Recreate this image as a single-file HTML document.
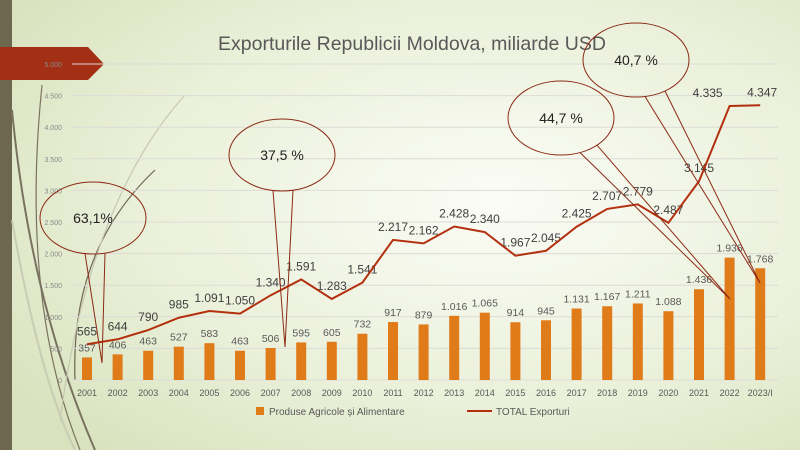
<!DOCTYPE html>
<html><head><meta charset="utf-8"><style>
html,body{margin:0;padding:0;width:800px;height:450px;overflow:hidden}
svg{display:block}
text{font-family:"Liberation Sans",sans-serif}
</style></head><body>
<svg id="s" width="800" height="450" xmlns="http://www.w3.org/2000/svg">
<defs>
<radialGradient id="bg" cx="0.62" cy="0.45" r="0.75">
<stop offset="0" stop-color="#fbfcf6"/><stop offset="0.6" stop-color="#eaf0d9"/><stop offset="1" stop-color="#d8e2bd"/>
</radialGradient>
</defs>
<rect width="800" height="450" fill="url(#bg)"/>
<rect x="0" y="0" width="12" height="450" fill="#6e6750"/>
<g fill="none" stroke="#7a7260" stroke-width="2">
<path d="M12,110 Q30,300 95,450" />
<path d="M42,85 Q20,300 80,450" stroke-width="1.2"/>
<path d="M75,380 Q70,250 155,170" stroke="#6e6650" stroke-width="1.2"/>
<path d="M60,420 Q90,200 185,95" stroke="#c8c8b0" stroke-width="1.2"/>
<path d="M12,220 Q40,380 75,450" stroke="#c9cbb4" stroke-width="2"/>
</g>
<polygon points="0,47 88,47 104,64 88,80 0,80" fill="#a33015"/>
<text x="412" y="50" text-anchor="middle" font-size="19.5" fill="#595959">Exporturile Republicii Moldova, miliarde USD</text>
<g id="g"></g>
</svg>
<script>
var g=document.getElementById('g'),h='';
function Y(v){return 380-v*0.0632}
function X(i){return 87+30.6*i}
for(var k=0;k<=10;k++){var y=Y(k*500);h+='<line x1="72" x2="778" y1="'+y+'" y2="'+y+'" stroke="#dcdcd6" stroke-width="1"/>';
var v=k*500,lab=v==0?'0':(v>=1000?Math.floor(v/1000)+'.'+String(v%1000).padStart(3,'0'):'500');
h+='<text x="62" y="'+(y+3)+'" text-anchor="end" font-size="7" fill="#8a8a8a">'+lab+'</text>';}
var yrs=['2001','2002','2003','2004','2005','2006','2007','2008','2009','2010','2011','2012','2013','2014','2015','2016','2017','2018','2019','2020','2021','2022','2023/I'];
var bar=[357,406,463,527,583,463,506,595,605,732,917,879,1016,1065,914,945,1131,1167,1211,1088,1436,1936,1768];
var tot=[565,644,790,985,1091,1050,1340,1591,1283,1541,2217,2162,2428,2340,1967,2045,2425,2707,2779,2487,3145,4335,4347];
function f(v){return v>=1000?Math.floor(v/1000)+'.'+String(v%1000).padStart(3,'0'):String(v)}
var pts=[];
for(var i=0;i<23;i++){var x=X(i);
h+='<rect x="'+(x-5)+'" y="'+Y(bar[i])+'" width="10" height="'+(380-Y(bar[i]))+'" fill="#e07b1a"/>';
h+='<text x="'+x+'" y="'+(Y(bar[i])-6)+'" text-anchor="middle" font-size="10.5" fill="#595959">'+f(bar[i])+'</text>';
h+='<text x="'+x+'" y="396" text-anchor="middle" font-size="9" fill="#595959">'+yrs[i]+'</text>';
pts.push(x+','+Y(tot[i]));
var lx=x+(i==21?-22:0)+(i==22?2:0);
h+='<text x="'+lx+'" y="'+(Y(tot[i])-9)+'" text-anchor="middle" font-size="12" fill="#404040">'+f(tot[i])+'</text>';}
h+='<polyline points="'+pts.join(' ')+'" fill="none" stroke="#b3300f" stroke-width="2"/>';
function call(cx,cy,rx,ry,x1,x2,tx,ty,t){
function py(x){var d=(x-cx)/rx;return cy+ry*Math.sqrt(Math.max(0,1-d*d))}
h+='<ellipse cx="'+cx+'" cy="'+cy+'" rx="'+rx+'" ry="'+ry+'" fill="none" stroke="#8b2a14" stroke-width="1"/>';
h+='<polyline points="'+x1+','+py(x1)+' '+tx+','+ty+' '+x2+','+py(x2)+'" fill="none" stroke="#8b2a14" stroke-width="1"/>';
h+='<text x="'+cx+'" y="'+(cy+5)+'" text-anchor="middle" font-size="14" fill="#222">'+t+'</text>';}
call(93,218,53,36,85,105,102,363,'63,1%');
call(282,155,53,36,273,293,285,347,'37,5 %');
call(561,118,53,37,580,597,730,299,'44,7 %');
call(636,60,53,37,645,665,760,283,'40,7 %');
h+='<rect x="256" y="407" width="8" height="8" fill="#e07b1a"/><text x="269" y="415" font-size="10" fill="#595959">Produse Agricole și Alimentare</text>';
h+='<line x1="467" x2="492" y1="411" y2="411" stroke="#b3300f" stroke-width="2"/><text x="496" y="415" font-size="10" fill="#595959">TOTAL Exporturi</text>';
g.innerHTML=h;
</script>
</body></html>
